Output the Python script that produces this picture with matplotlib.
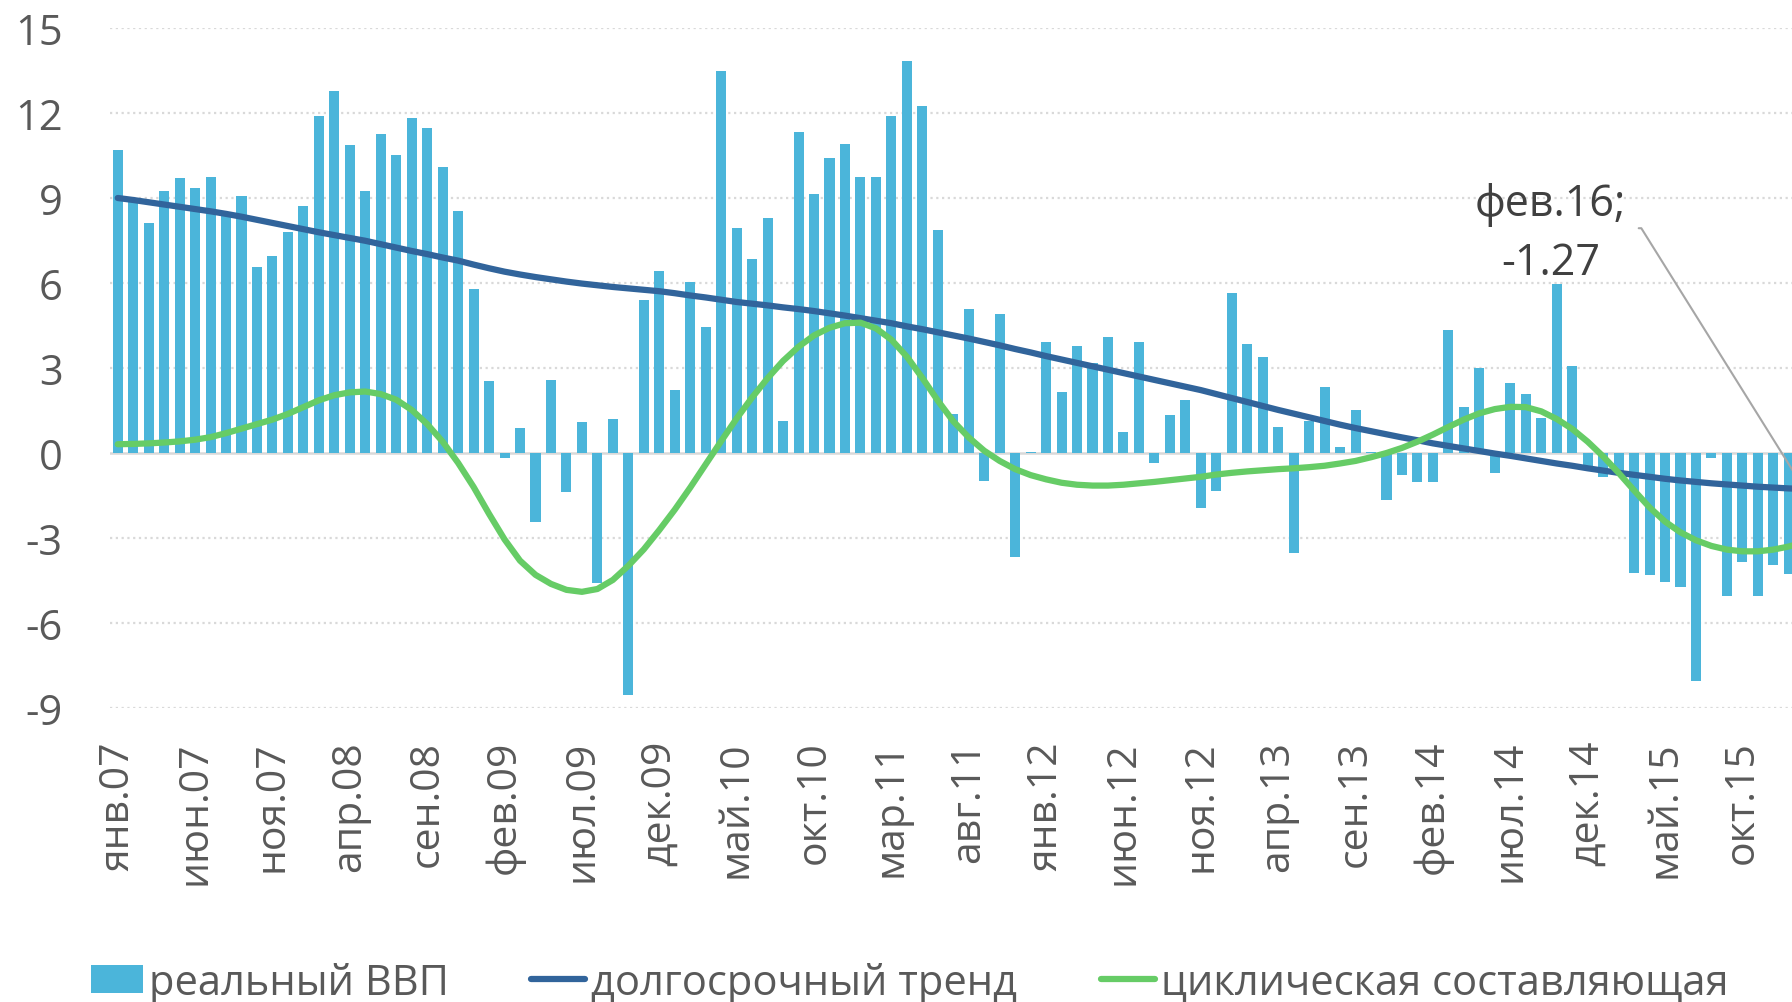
import matplotlib
matplotlib.use("Agg")
import matplotlib.pyplot as plt
import numpy as np

# --------------------------------------------------------------------------- #
# Data (monthly, Jan 2007 .. Feb 2016)
# --------------------------------------------------------------------------- #
GDP = [
    10.69, 8.90, 8.12, 9.23, 9.71, 9.34, 9.73, 8.51, 9.06, 6.55,
    6.96, 7.80, 8.71, 11.90, 12.79, 10.86, 9.26, 11.27, 10.52, 11.84,
    11.46, 10.10, 8.55, 5.79, 2.55, -0.18, 0.88, -2.45, 2.58, -1.36,
    1.10, -4.60, 1.20, -8.53, 5.40, 6.44, 2.24, 6.05, 4.43, 13.49,
    7.93, 6.83, 8.30, 1.14, 11.33, 9.15, 10.41, 10.90, 9.75, 9.75,
    11.90, 13.82, 12.24, 7.88, 1.39, 5.08, -0.99, 4.90, -3.68, 0.03,
    3.91, 2.14, 3.79, 3.18, 4.10, 0.75, 3.92, -0.34, 1.33, 1.88,
    -1.93, -1.33, 5.64, 3.86, 3.39, 0.91, -3.53, 1.12, 2.32, 0.21,
    1.52, 0.05, -1.67, -0.76, -1.04, -1.04, 4.35, 1.62, 3.00, -0.71,
    2.48, 2.08, 1.25, 5.95, 3.08, -0.50, -0.83, -0.75, -4.23, -4.31,
    -4.57, -4.73, -8.04, -0.18, -5.04, -3.86, -5.06, -3.97, -4.28, -4.00,
]

TREND = [
    9.00, 8.93, 8.85, 8.77, 8.69, 8.61, 8.53, 8.44, 8.34, 8.23,
    8.12, 8.01, 7.90, 7.79, 7.69, 7.59, 7.49, 7.37, 7.25, 7.13,
    7.02, 6.90, 6.79, 6.65, 6.52, 6.40, 6.30, 6.21, 6.13, 6.05,
    5.98, 5.92, 5.86, 5.81, 5.76, 5.71, 5.64, 5.56, 5.49, 5.41,
    5.33, 5.27, 5.21, 5.14, 5.08, 5.01, 4.93, 4.85, 4.76, 4.67,
    4.58, 4.47, 4.37, 4.26, 4.15, 4.04, 3.92, 3.80, 3.67, 3.55,
    3.42, 3.30, 3.18, 3.06, 2.94, 2.82, 2.70, 2.58, 2.46, 2.34,
    2.22, 2.08, 1.94, 1.80, 1.66, 1.52, 1.39, 1.26, 1.13, 1.00,
    0.88, 0.77, 0.66, 0.55, 0.45, 0.34, 0.25, 0.16, 0.07, -0.02,
    -0.10, -0.19, -0.28, -0.37, -0.45, -0.54, -0.62, -0.70, -0.77, -0.84,
    -0.91, -0.97, -1.02, -1.07, -1.11, -1.15, -1.19, -1.22, -1.25, -1.27,
]

CYCLE = [
    0.31, 0.32, 0.34, 0.37, 0.41, 0.47, 0.56, 0.70, 0.86, 1.02,
    1.18, 1.38, 1.62, 1.86, 2.04, 2.14, 2.17, 2.08, 1.88, 1.52,
    1.02, 0.40, -0.35, -1.20, -2.15, -3.05, -3.80, -4.30, -4.62, -4.83,
    -4.90, -4.80, -4.48, -3.98, -3.40, -2.72, -2.00, -1.22, -0.40, 0.42,
    1.22, 1.96, 2.64, 3.25, 3.75, 4.15, 4.42, 4.58, 4.60, 4.40,
    4.00, 3.40, 2.65, 1.85, 1.12, 0.55, 0.08, -0.28, -0.57, -0.78,
    -0.93, -1.05, -1.12, -1.15, -1.15, -1.12, -1.07, -1.02, -0.96, -0.90,
    -0.84, -0.76, -0.70, -0.65, -0.61, -0.57, -0.54, -0.50, -0.45, -0.37,
    -0.28, -0.15, 0.00, 0.18, 0.40, 0.65, 0.92, 1.18, 1.40, 1.55,
    1.63, 1.62, 1.47, 1.20, 0.85, 0.40, -0.12, -0.70, -1.32, -1.92,
    -2.42, -2.80, -3.08, -3.28, -3.41, -3.47, -3.47, -3.41, -3.30, -3.15,
]

TICK_LABELS = [
    "янв.07", "июн.07", "ноя.07", "апр.08", "сен.08", "фев.09", "июл.09",
    "дек.09", "май.10", "окт.10", "мар.11", "авг.11", "янв.12", "июн.12",
    "ноя.12", "апр.13", "сен.13", "фев.14", "июл.14", "дек.14", "май.15",
    "окт.15",
]
Y_TICKS = [-9, -6, -3, 0, 3, 6, 9, 12, 15]
Y_LABELS = ["-9", "-6", "-3", "0", "3", "6", "9", "12", "15"]

SERIES_NAMES = ["реальный ВВП", "долгосрочный тренд", "циклическая составляющая"]
LAST_LABEL = "фев.16;\n-1.27"

# --------------------------------------------------------------------------- #
# Styling
# --------------------------------------------------------------------------- #
BAR_COLOR = "#4BB5DA"
TREND_COLOR = "#31649B"
CYCLE_COLOR = "#66CC66"
GRID_COLOR = "#D9D9D9"
TEXT_COLOR = "#595959"

plt.rcParams["font.family"] = ["Open Sans", "DejaVu Sans"]

fig = plt.figure(figsize=(17.92, 10.03), dpi=100)
# plot area is cut off at the right edge in the original picture
ax = fig.add_axes([110 / 1792, 1 - 709 / 1003, 1702 / 1792, 680 / 1003])

x = np.arange(len(GDP))
bars = ax.bar(x, GDP, width=0.65, color=BAR_COLOR, linewidth=0, zorder=2)
trend_line, = ax.plot(x, TREND, color=TREND_COLOR, lw=4.5,
                      solid_capstyle="round", solid_joinstyle="round", zorder=3)
cycle_line, = ax.plot(x, CYCLE, color=CYCLE_COLOR, lw=4.5,
                      solid_capstyle="round", solid_joinstyle="round", zorder=4)

ax.set_xlim(-0.5, len(GDP) - 0.5)
ax.set_ylim(-9, 15)

for v in Y_TICKS:
    if v == 0:
        ax.axhline(v, color=GRID_COLOR, lw=1.8, zorder=1)
    else:
        ax.axhline(v, color=GRID_COLOR, lw=1.6, ls=(0, (1, 1.6)), zorder=1)

ax.set_yticks(Y_TICKS)
ax.set_yticklabels(Y_LABELS)
ax.set_xticks(x[::5])
ax.set_xticklabels(TICK_LABELS, rotation=90, va="top", ha="center")
ax.tick_params(axis="y", length=0, pad=34, labelsize=30, labelcolor=TEXT_COLOR)
ax.tick_params(axis="x", length=0, pad=23, labelsize=29.5, labelcolor=TEXT_COLOR)
for s in ax.spines.values():
    s.set_visible(False)

# label for the last trend point (Feb 2016), leader line runs off the picture
ax.annotate(LAST_LABEL, xy=(x[-1], TREND[-1]), xytext=(92.6, 7.75),
            textcoords="data", ha="center", va="center", multialignment="center",
            fontsize=31, color="#404040", linespacing=1.45,
            annotation_clip=False,
            arrowprops=dict(arrowstyle="-", color="#A6A6A6", lw=1.5,
                            shrinkA=7, shrinkB=0, relpos=(1.0, 0.55),
                            connectionstyle="angle,angleA=0,angleB=122,rad=0"))

# legend: three entries placed like the original
leg_font = dict(family=["Open Sans", "DejaVu Sans"], size=30)
entries = [(bars, SERIES_NAMES[0], 91, 1.25, 0.65),
           (trend_line, SERIES_NAMES[1], 531, 1.3, 0.7),
           (cycle_line, SERIES_NAMES[2], 1101, 1.3, 0.7)]
for handle, name, x0, hl, hh in entries:
    leg = fig.legend([handle], [name], loc="center left",
                     bbox_to_anchor=(x0 / 1792, (1003 - 984) / 1003),
                     frameon=False, prop=leg_font, handlelength=hl,
                     handleheight=hh, handletextpad=0.14, borderpad=0,
                     borderaxespad=0)
    for t in leg.get_texts():
        t.set_color(TEXT_COLOR)

fig.savefig("out.png", dpi=100)
